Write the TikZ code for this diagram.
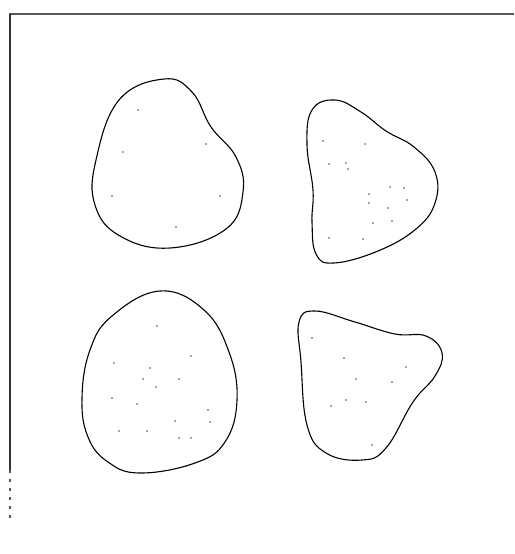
\documentclass[tikz,border=0pt]{standalone}
\begin{document}
\begin{tikzpicture}[x=1pt,y=-1pt,
  blob/.style={draw=black,line width=1.1pt},
  dot/.style={fill=black!70,draw=none},
  frame/.style={draw=black!65,line width=1.1pt}]
\useasboundingbox[fill=white] (0,0) rectangle (514,554);
% frame
\draw[frame] (9,14) -- (514,14);
\draw[frame,draw=black!80,line width=1.3pt] (10,14) -- (10,470);
\draw[frame,dashed,dash pattern=on 3pt off 6pt] (10,470) -- (10,520);
% blob 1 (top left)
\draw[blob] plot[smooth cycle,tension=0.7] coordinates {
 (164,79) (192,92) (211,127) (236,157) (243,192) (226,229) (170,248)
 (120,236) (95,205) (96,160) (119,100)};
\foreach \p in {(138,110),(123,152),(206,144),(112,196),(220,196),(176,227)}
  \fill[dot] \p circle (0.9);
% blob 2 (top right)
\draw[blob] plot[smooth cycle,tension=0.7] coordinates {
 (335,100) (361,112) (386,131) (414,147) (435,172) (435,203) (416,229)
 (378,251) (334,263) (316,254) (312,222) (313,190) (307,145) (312,110)};
\foreach \p in {(323,141),(365,144),(329,164),(346,163),(348,169),(390,187),(404,188),(369,194),(407,200),(369,203),(388,208),(373,223),(392,221),(329,238),(363,239)}
  \fill[dot] \p circle (0.9);
% blob 3 (bottom left)
\draw[blob] plot[smooth cycle,tension=0.7] coordinates {
 (160,291) (204,310) (229,352) (237,400) (225,442) (195,463) (140,473)
 (108,462) (88,437) (82,398) (90,350) (112,316)};
\foreach \p in {(157,326),(191,356),(114,363),(150,368),(143,379),(179,379),(156,387),(112,398),(137,404),(208,410),(175,421),(210,422),(119,431),(147,431),(179,438),(191,438)}
  \fill[dot] \p circle (0.9);
% blob 4 (bottom right)
\draw[blob] plot[smooth cycle,tension=0.7] coordinates {
 (315,311) (355,322) (395,334) (426,336) (442,353) (435,376) (413,402)
 (386,448) (362,460) (326,453) (307,425) (301,362) (299,322)};
\foreach \p in {(312,338),(344,358),(406,367),(356,379),(392,382),(346,400),(366,402),(331,406),(372,445)}
  \fill[dot] \p circle (0.9);
\end{tikzpicture}
\end{document}
